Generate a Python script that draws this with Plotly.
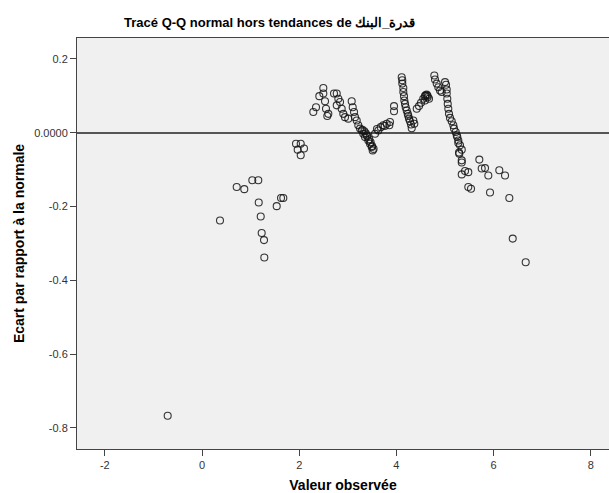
import plotly.graph_objects as go

observed = [
    -0.706, 0.370, 0.714, 0.870, 1.035, 1.158, 1.167, 1.208, 1.228, 1.276,
    1.282, 1.537, 1.626, 1.673, 1.934, 2.031, 1.969, 2.099, 2.031,
    2.290, 2.346, 2.414, 2.496, 2.496, 2.531, 2.551, 2.599, 2.578, 2.716,
    2.772, 2.805, 2.840, 2.772, 2.874, 2.907, 2.942, 3.010, 3.080, 3.101,
    3.128, 3.148, 3.183, 3.216, 3.251, 3.286, 3.319, 3.354, 3.389, 3.422,
    3.457, 3.492, 3.512, 3.560, 3.628, 3.677, 3.730, 3.800, 3.854, 3.868,
    3.951, 3.951,
    3.300, 3.340, 3.370, 3.400, 3.440, 3.470, 3.500, 3.530, 3.600, 3.760,
    4.109, 4.121, 4.121, 4.142, 4.142, 4.156, 4.163, 4.177, 4.191, 4.212,
    4.233, 4.245, 4.259, 4.280, 4.300, 4.315, 4.368, 4.348, 4.418, 4.465,
    4.506, 4.553, 4.588, 4.623, 4.644, 4.671, 4.588, 4.600, 4.640,
    4.780, 4.794, 4.829, 4.862, 4.897, 4.932, 5.000, 5.021, 5.035, 5.035,
    5.047, 5.056, 5.068, 5.082, 5.103, 5.138, 5.171, 5.185, 5.220, 5.241,
    5.274, 5.309, 5.288, 5.344,
    5.253, 5.274, 5.344, 5.294, 5.344, 5.412, 5.479, 5.344, 5.479, 5.535,
    5.706, 5.755, 5.823, 5.891, 5.926, 6.117, 6.235, 6.323, 6.393, 6.660,
]
deviation = [
    -0.767, -0.238, -0.147, -0.153, -0.129, -0.129, -0.189, -0.227, -0.272, -0.291,
    -0.338, -0.199, -0.177, -0.177, -0.030, -0.030, -0.046, -0.043, -0.061,
    0.056, 0.069, 0.099, 0.121, 0.106, 0.085, 0.065, 0.051, 0.045, 0.106,
    0.106, 0.092, 0.083, 0.074, 0.065, 0.051, 0.042, 0.038, 0.085, 0.069,
    0.056, 0.042, 0.033, 0.020, 0.011, 0.006, -0.003, -0.012, -0.007, -0.021,
    -0.030, -0.039, -0.048, -0.003, 0.006, 0.015, 0.020, 0.024, 0.020, 0.029,
    0.072, 0.058,
    0.008, 0.004, -0.002, -0.010, -0.018, -0.026, -0.036, -0.044, 0.010, 0.018,
    0.150, 0.142, 0.133, 0.121, 0.110, 0.099, 0.087, 0.078, 0.069, 0.060,
    0.051, 0.045, 0.038, 0.031, 0.022, 0.012, 0.024, 0.033, 0.065, 0.072,
    0.081, 0.092, 0.099, 0.103, 0.096, 0.092, 0.087, 0.101, 0.100,
    0.155, 0.144, 0.133, 0.123, 0.114, 0.110, 0.137, 0.130, 0.117, 0.106,
    0.092, 0.078, 0.065, 0.051, 0.040, 0.031, 0.020, 0.011, 0.002, -0.007,
    -0.021, -0.034, -0.054, -0.075,
    -0.012, -0.028, -0.046, -0.057, -0.081, -0.104, -0.107, -0.113, -0.147, -0.152,
    -0.073, -0.097, -0.096, -0.116, -0.162, -0.102, -0.116, -0.177, -0.287, -0.351,
]

x_tickvals = [-2, 0, 2, 4, 6, 8]
x_ticktext = ["-2", "0", "2", "4", "6", "8"]
y_tickvals = [0.2, 0.0, -0.2, -0.4, -0.6, -0.8]
y_ticktext = ["0.2", "0.0000", "-0.2", "-0.4", "-0.6", "-0.8"]

title_text = "Tracé Q-Q normal hors tendances de قدرة_البنك"
x_title = "Valeur observée"
y_title = "Ecart par rapport à la normale"

font_family = "Liberation Sans, Arial, sans-serif"

fig = go.Figure()
fig.add_trace(go.Scatter(
    x=observed, y=deviation, mode="markers",
    marker=dict(symbol="circle-open", size=7, color="rgba(20,20,20,0.85)",
                line=dict(width=1.1, color="rgba(20,20,20,0.85)")),
    showlegend=False, hoverinfo="x+y",
))

fig.update_layout(
    width=609, height=493,
    margin=dict(l=77, r=0, t=38, b=44),
    paper_bgcolor="white",
    plot_bgcolor="#F0F0F0",
    font=dict(family=font_family, color="#333333", size=11),
    title=dict(text="<b>" + title_text + "</b>", x=0.443, xref="container",
               xanchor="center", y=0.955, yref="container", yanchor="middle",
               font=dict(size=13, color="#000000", family=font_family)),
    xaxis=dict(
        range=[-2.572, 8.374], tickvals=x_tickvals, ticktext=x_ticktext,
        showgrid=False, zeroline=False, showline=True, linecolor="#444444",
        linewidth=1, mirror=True, ticks="outside", ticklen=6, tickcolor="#444444",
        tickfont=dict(size=11, color="#333333"),
        title=dict(text="<b>" + x_title + "</b>", standoff=12,
                   font=dict(size=14, color="#000000")),
        automargin=False,
    ),
    yaxis=dict(
        range=[-0.857, 0.2565], tickvals=y_tickvals, ticktext=y_ticktext,
        showgrid=False, zeroline=True, zerolinecolor="#555555", zerolinewidth=2,
        showline=True, linecolor="#444444", linewidth=1, mirror=False,
        ticks="outside", ticklen=6, tickcolor="#444444",
        tickfont=dict(size=11, color="#333333"),
        title=dict(text="<b>" + y_title + "</b>", standoff=6,
                   font=dict(size=14, color="#000000")),
        automargin=False,
    ),
)

fig.write_html("out.html")
